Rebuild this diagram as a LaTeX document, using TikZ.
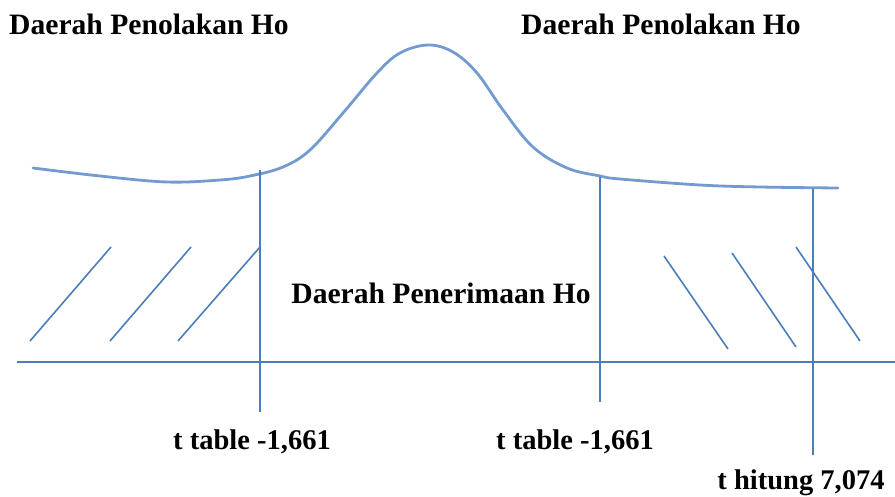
\documentclass[tikz,border=0pt]{standalone}
\usepackage{fontspec}
\setmainfont{Liberation Serif}
\begin{document}
\begin{tikzpicture}[x=1pt,y=-1pt,
  ln/.style={draw={rgb,255:red,74;green,126;blue,187},line width=1.6pt},
  crv/.style={draw={rgb,255:red,115;green,155;blue,208},line width=2.8pt,line cap=round},
  lbl/.style={font=\bfseries\fontsize{28.5}{30}\selectfont,inner sep=0pt,text=black},
  lblb/.style={lbl,font=\bfseries\fontsize{29.6}{31}\selectfont}]
\useasboundingbox (0,0) rectangle (895,497);
% curve
\draw[crv] plot[smooth,tension=0.6] coordinates {(33,168) (100,176) (167,182) (220,180) (250,176) (283,167) (310,150) (343,113) (377,73) (400,53) (428,45) (453,52) (477,73) (503,110) (533,147) (567,168) (600,176) (620,179) (700,185) (760,187) (838,188)};
% axis
\coordinate (axL) at (17,362);
\coordinate (axR) at (895,362);
\draw[ln] (axL) -- (axR);
% verticals
\coordinate (v1t) at (260,170); \coordinate (v1b) at (260,412);
\coordinate (v2t) at (600,177); \coordinate (v2b) at (600,402);
\coordinate (v3t) at (813,189); \coordinate (v3b) at (813,455);
\draw[ln] (v1t) -- (v1b);
\draw[ln] (v2t) -- (v2b);
\draw[ln] (v3t) -- (v3b);
% left hatches
\coordinate (h1a) at (30,341); \coordinate (h1b) at (111,247);
\coordinate (h2a) at (110,341); \coordinate (h2b) at (191,247);
\coordinate (h3a) at (178,341); \coordinate (h3b) at (260,247);
\draw[ln] (h1a) -- (h1b);
\draw[ln] (h2a) -- (h2b);
\draw[ln] (h3a) -- (h3b);
% right hatches
\coordinate (h4a) at (664,256); \coordinate (h4b) at (728,349);
\coordinate (h5a) at (732,253); \coordinate (h5b) at (796,347);
\coordinate (h6a) at (796,247); \coordinate (h6b) at (860,341);
\draw[ln] (h4a) -- (h4b);
\draw[ln] (h5a) -- (h5b);
\draw[ln] (h6a) -- (h6b);
% labels
\node[lblb] (tl) at (149,24) {Daerah Penolakan Ho};
\node[lblb] (tr) at (661,24) {Daerah Penolakan Ho};
\node[lblb] (mid) at (441,293) {Daerah Penerimaan Ho};
\node[lbl] (t1) at (252,442) {t table -1,661};
\node[lbl] (t2) at (575,442) {t table -1,661};
\node[lbl] (t3) at (801,483) {t hitung 7,074};
\end{tikzpicture}
\end{document}
